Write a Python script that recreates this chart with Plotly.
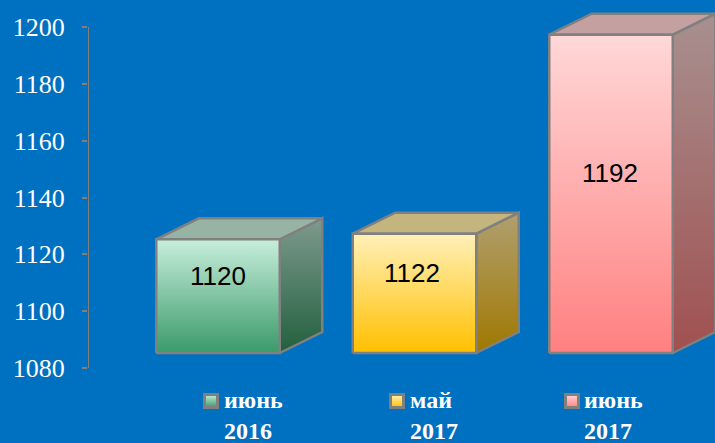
import plotly.graph_objects as go

labels = ["июнь<br>2016", "май<br>2017", "июнь<br>2017"]
values = [1120, 1122, 1192]
ticks = [1080, 1100, 1120, 1140, 1160, 1180, 1200]
x_pos = [0, 1, 2]
front_colors = [("#C8EEDC", "#3A9A6A"), ("#FFF0B8", "#FFC000"), ("#FFD8D8", "#FF8080")]
side_colors = [("#7E9A8E", "#22603E"), ("#B0A070", "#A07800"), ("#A89090", "#A05050")]
top_colors = ["#97B3A3", "#C4B57F", "#C4A0A0"]
swatch_x = [-0.0356, 0.911, 1.8015]
text_x = [0.0305, 0.975, 1.863]
label_shift = [0, -3, -1]

BASE = 1080
PXU = 341 / 120
LIFT = 15 / PXU
DY = 21 / PXU
DX = 42.5 / 196.5
W = 123.5 / 196.5
GRAY = "#808080"
BG = "#0070C0"
X_LEFT = -130 / 196.5


def poly(xs, ys, fill):
    return go.Scatter(x=xs + xs[:1], y=ys + ys[:1], mode="lines", fill="toself",
                      line=dict(color=GRAY, width=2.5), cliponaxis=False,
                      hoverinfo="skip", showlegend=False, **fill)


def grad(top, bottom, lo, hi):
    return dict(fillgradient=dict(type="vertical", start=hi, stop=lo,
                                  colorscale=[[0, top], [1, bottom]]))


fig = go.Figure()
fig.add_trace(go.Scatter(x=[X_LEFT, X_LEFT], y=[ticks[0], ticks[-1]], mode="lines", cliponaxis=False,
                         line=dict(color=GRAY, width=2), hoverinfo="skip", showlegend=False))
for x, v, fc, sc, tc in zip(x_pos, values, front_colors, side_colors, top_colors):
    l, r = x - W / 2, x + W / 2
    b, t = BASE + LIFT, v + LIFT
    fig.add_trace(poly([r, r + DX, r + DX, r], [b, b + DY, t + DY, t], grad(sc[0], sc[1], b, t + DY)))
    fig.add_trace(poly([l, r, r + DX, l + DX], [t, t, t + DY, t + DY], dict(fillcolor=tc)))
    fig.add_trace(poly([l, r, r, l], [b, b, t, t], grad(fc[0], fc[1], b, t)))

for x, v, s in zip(x_pos, values, label_shift):
    fig.add_annotation(x=x, y=(BASE + v) / 2 + LIFT + 20.5 / PXU, text=str(v), showarrow=False, xshift=s,
                       font=dict(family="Liberation Sans", size=26, color="black"))

swatch_y = BASE - 33 / PXU
for sx, fc in zip(swatch_x, front_colors):
    fig.add_trace(go.Scatter(x=[sx], y=[swatch_y], mode="markers", cliponaxis=False, hoverinfo="skip",
                             showlegend=False,
                             marker=dict(symbol="square", size=13, color=fc[0],
                                         gradient=dict(type="vertical", color=fc[1]),
                                         line=dict(color=GRAY, width=3))))

for tx, lab in zip(text_x, labels):
    fig.add_annotation(x=tx, y=BASE - 17 / PXU, text="<b>" + lab + "</b>", showarrow=False, xanchor="left",
                       yanchor="top", align="left", xshift=-2,
                       font=dict(family="Liberation Serif", size=24, color="white"))

fig.update_layout(
    width=715, height=443, autosize=False, paper_bgcolor=BG, plot_bgcolor=BG,
    margin=dict(l=88, r=0, t=0, b=0), showlegend=False,
    xaxis=dict(range=[X_LEFT, 497 / 196.5], visible=False, fixedrange=True),
    yaxis=dict(range=[1080 - 75 / PXU, 1200 + 27 / PXU], tickvals=ticks, showgrid=False, zeroline=False,
               showline=False, ticks="outside", ticklen=5, tickcolor=GRAY, tickwidth=2,
               ticklabelstandoff=12, tickfont=dict(family="Liberation Serif", size=26, color="white")),
)
fig.write_html("out.html", config=dict(displayModeBar=False),
               post_script="document.body.style.margin='0';document.body.style.background='#0070C0';")
